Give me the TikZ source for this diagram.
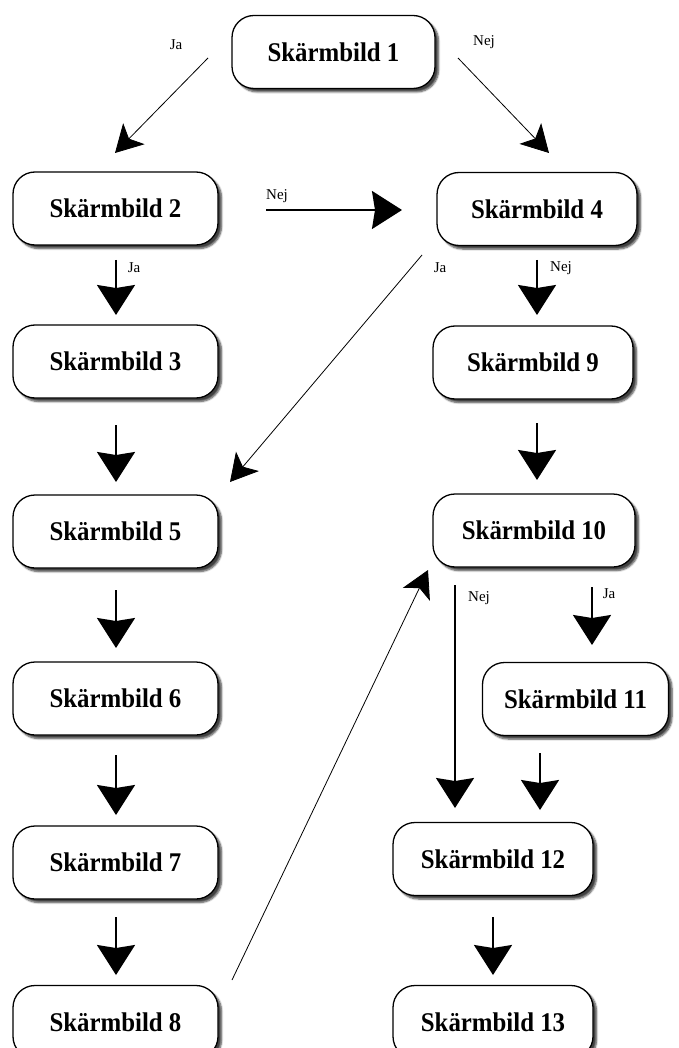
\documentclass[tikz,border=0pt]{standalone}
\usepackage{fontspec}
\setmainfont{Liberation Serif}
\newfontfamily\boxfont[FakeStretch=0.92]{Liberation Serif Bold}
\usetikzlibrary{arrows.meta,shadows,shadows.blur}
\begin{document}
\begin{tikzpicture}[x=1pt,y=-1pt,
  box/.style={draw=black,line width=1.3pt,rounded corners=22pt,fill=white,
    minimum height=73pt,minimum width=203pt,inner sep=0pt,
    font=\boxfont\fontsize{27}{32}\selectfont,
    blur shadow={shadow xshift=3.5pt,shadow yshift=-3.5pt,shadow blur steps=6,shadow opacity=75}},
  lbl/.style={font=\fontsize{15}{17}\selectfont,inner sep=0pt},
  big/.style={line width=2pt,-{Stealth[length=30pt,width=38pt,inset=3pt]}},
  thin/.style={line width=0.8pt,-{Stealth[length=27pt,width=30pt,inset=7pt]}}]
\useasboundingbox (0,0) rectangle (679,1048);
% nodes
\node[box] (n1) at (333.5,52) {Skärmbild 1};
\node[box,minimum width=205pt] (n2) at (115.5,208.5) {Skärmbild 2};
\node[box,minimum width=200pt] (n4) at (537,209) {Skärmbild 4};
\node[box,minimum width=205pt] (n3) at (115.5,361.5) {Skärmbild 3};
\node[box,minimum width=200pt] (n9) at (533,362.5) {Skärmbild 9};
\node[box,minimum width=205pt] (n5) at (115.5,531.5) {Skärmbild 5};
\node[box,minimum width=202pt] (n10) at (534,530.5) {Skärmbild 10};
\node[box,minimum width=205pt] (n6) at (115.5,698.5) {Skärmbild 6};
\node[box,minimum width=186pt] (n11) at (575.5,699) {Skärmbild 11};
\node[box,minimum width=205pt] (n7) at (115.5,862.5) {Skärmbild 7};
\node[box,minimum width=200pt] (n12) at (493,859) {Skärmbild 12};
\node[box,minimum width=205pt] (n8) at (115.5,1022) {Skärmbild 8};
\node[box,minimum width=200pt] (n13) at (493,1022) {Skärmbild 13};
% connectors
\draw[thin] ([shift={(-125.5,6)}]n1.center) -- ([shift={(-0.5,-55.5)}]n2.center);
\draw[thin] ([shift={(124.5,6)}]n1.center) -- ([shift={(12,-56)}]n4.center);
\draw[big] ([shift={(150.5,1.5)}]n2.center) -- ([shift={(-135,1)}]n4.center);
\draw[big] ([shift={(0.5,51.5)}]n2.center) -- ([shift={(0.5,-46.5)}]n3.center);
\draw[big] ([shift={(0,51)}]n4.center) -- ([shift={(4,-47.5)}]n9.center);
\draw[thin] ([shift={(-115,46)}]n4.center) -- ([shift={(114.5,-49.5)}]n5.center);
\draw[big] ([shift={(0.5,63.5)}]n3.center) -- ([shift={(0.5,-49.5)}]n5.center);
\draw[big] ([shift={(4,60.5)}]n9.center) -- ([shift={(3,-50.5)}]n10.center);
\draw[big] ([shift={(0.5,58.5)}]n5.center) -- ([shift={(0.5,-50.5)}]n6.center);
\draw[big] ([shift={(0.5,56.5)}]n6.center) -- ([shift={(0.5,-47.5)}]n7.center);
\draw[big] ([shift={(0.5,54.5)}]n7.center) -- ([shift={(0.5,-47)}]n8.center);
\draw[big] ([shift={(-79,54.5)}]n10.center) -- ([shift={(-38,-51)}]n12.center);
\draw[big] ([shift={(58,56.5)}]n10.center) -- ([shift={(16.5,-54)}]n11.center);
\draw[big] ([shift={(-35.5,54)}]n11.center) -- ([shift={(47,-49)}]n12.center);
\draw[big] ([shift={(0,58)}]n12.center) -- ([shift={(0,-47)}]n13.center);
\draw[thin] ([shift={(116.5,-42)}]n8.center) -- ([shift={(-106,39.5)}]n10.center);
% labels
\node[lbl] (l1) at (176,45) {Ja};
\node[lbl] (l2) at (484,42) {Nej};
\node[lbl] (l3) at (277,196) {Nej};
\node[lbl] (l4) at (134,268) {Ja};
\node[lbl] (l5) at (440,268) {Ja};
\node[lbl] (l6) at (561,268) {Nej};
\node[lbl] (l7) at (479,598) {Nej};
\node[lbl] (l8) at (609,594) {Ja};
\end{tikzpicture}
\end{document}
